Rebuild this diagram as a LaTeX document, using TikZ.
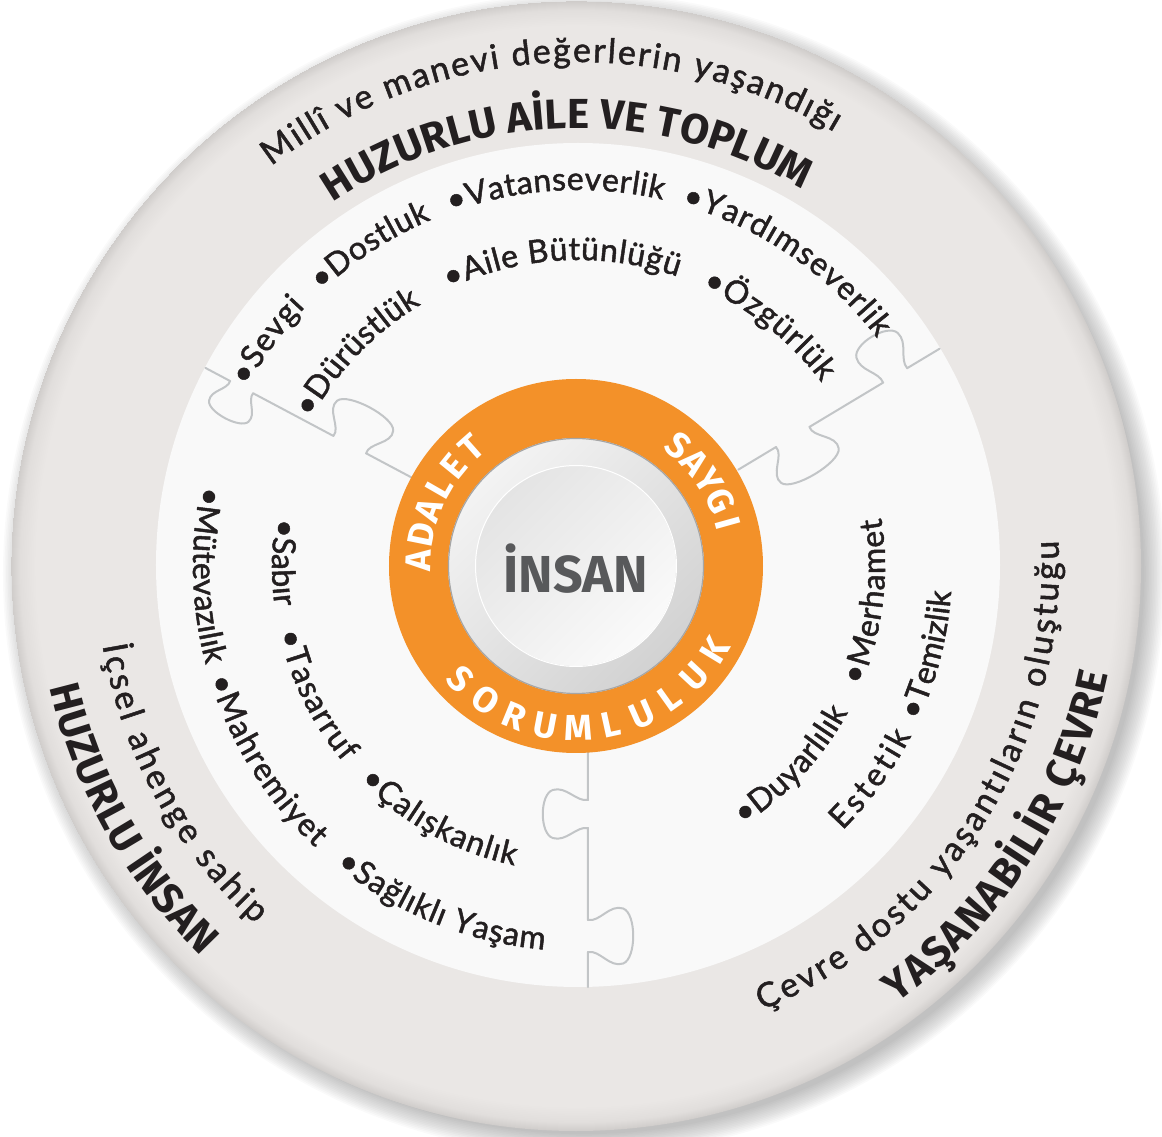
\documentclass[tikz,border=0pt]{standalone}
\usepackage{fontspec}
\usetikzlibrary{decorations.text}
\newfontfamily\bodyfam{Lato}[FakeBold=1.5]
\newfontfamily\headfam{Fira Sans}
\definecolor{ringc}{HTML}{EAE7E5}
\definecolor{rimc}{HTML}{E1DEDC}
\definecolor{rimd}{HTML}{CFCCCA}
\definecolor{innerc}{HTML}{F9F9F9}
\definecolor{puzz}{HTML}{C2C5C7}
\definecolor{orng}{HTML}{F39129}
\definecolor{txt}{HTML}{231F20}
\definecolor{insg}{HTML}{58595B}
\definecolor{rimL}{HTML}{F3F3F3}
\definecolor{rimD}{HTML}{D2D2D2}
\definecolor{discL}{HTML}{FAFAFA}
\definecolor{discD}{HTML}{E4E4E4}
\pgfdeclareradialshading{outerrim}{\pgfpoint{0bp}{0bp}}{color(0bp)=(ringc); color(23.9bp)=(ringc); color(24.6bp)=(rimc); color(25bp)=(rimd)}
\newcommand\bodyf{\bodyfam\fontsize{32}{32}\selectfont}
\newcommand\smallf{\bodyfam\fontsize{34}{34}\selectfont}
\newcommand\boldf{\headfam\bfseries\fontsize{42}{42}\selectfont}
\newcommand\arctext[5]{\path[decorate,decoration={text along path,text align=fit to path,text color=txt,text={|#4|#5}}] (#2:#1) arc[start angle=#2,end angle=#3,radius=#1];}
\newcommand\jtab[3]{-- (#1,0) .. controls ({#1+0.07*#2},{0.26*(#3)}) and ({#1-0.5*#2},{0.48*(#3)}) .. ({#1-0.36*#2},{0.78*(#3)}) .. controls ({#1-0.21*#2},{1.08*(#3)}) and ({#1+1.21*#2},{1.08*(#3)}) .. ({#1+1.36*#2},{0.78*(#3)}) .. controls ({#1+1.5*#2},{0.48*(#3)}) and ({#1+0.93*#2},{0.26*(#3)}) .. ({#1+#2},0)}
\tikzset{
  puzzline/.style={draw=puzz,line width=2pt,line join=round,line cap=round},
  ringl/.style={font=\headfam\bfseries\fontsize{36}{36}\selectfont,text=white,anchor=base,inner sep=0pt}
}
\begin{document}
\begin{tikzpicture}[x=1pt,y=1pt]
\useasboundingbox (-578,-571) rectangle (584,566);
% drop shadow
\foreach \k in {0,...,13}{\fill[black,opacity=0.02] (6,-8) circle ({565+16-\k*1.6});}
% outer disk
\shade[shading=outerrim] (-2,0) circle (565);
% inner light disk
\fill[innerc] (0,1) circle (422);
% puzzle dividers
\begin{scope}[rotate=152]
\draw[puzzline] (187,0) \jtab{240}{37}{-42} \jtab{368}{26}{35} -- (422,0);
\end{scope}
\begin{scope}[rotate=31]
\draw[puzzline] (187,0) \jtab{231}{39}{-43} \jtab{356}{28}{45} -- (422,0);
\end{scope}
\begin{scope}[shift={(10,0)},rotate=-90]
\draw[puzzline] (186,0) \jtab{234}{28}{-45} \jtab{354}{32}{45} -- (421,0);
\end{scope}
% orange ring
\fill[orng,even odd rule] (-2,0) circle (187) (-2,0) circle (128);
\shade[top color=rimL,bottom color=rimD,shading angle=45] (-2,0) circle (127.5);
\draw[draw=gray!70,line width=1.2pt] (-2,0) circle (127.5);
\shade[top color=discD,bottom color=discL,shading angle=45] (-2,0) circle (100);
\draw[white,line width=1pt] (-2,0) circle (100.5);
\node[font=\headfam\bfseries\fontsize{52}{52}\selectfont,text=insg,anchor=base,inner sep=0pt] (insan) at (-2.5,-27) {İNSAN};
% ring words
\begin{scope}[shift={(-2,0)}]
\foreach \l [count=\i from 0] in {A,D,A,L,E,T}{\pgfmathsetmacro\ang{178-\i*9.3}\node[ringl,rotate=\ang-90] (ad\i) at (\ang:145.5) {\l};}
\foreach \l [count=\i from 0] in {S,A,Y,G,I}{\pgfmathsetmacro\ang{49.8-\i*8.55}\node[ringl,rotate=\ang-90] (sa\i) at (\ang:145.5) {\l};}
\foreach \l [count=\i from 0] in {S,O,R,U,M,L,U,L,U,K}{\pgfmathsetmacro\ang{224.5+\i*11.57}\node[ringl,rotate=\ang+90] (so\i) at (\ang:174.5) {\l};}
\end{scope}
% top sector items
\arctext{376}{151.5}{136.5}{\bodyf}{•Sevgi}
\arctext{376}{133}{113}{\bodyf}{•Dostluk}
\arctext{376}{109.8}{77}{\bodyf}{•Vatanseverlik}
\arctext{376}{74}{37.3}{\bodyf}{•Yardımseverlik}
\arctext{305}{151}{121}{\bodyf}{•Dürüstlük}
\arctext{306}{115}{71}{\bodyf}{•Aile Bütünlüğü}
\arctext{305}{66}{37}{\bodyf}{•Özgürlük}
% left sector items
\arctext{385}{168}{194.5}{\bodyf}{•Mütevazılık}
\arctext{385}{197}{227}{\bodyf}{•Mahremiyet}
\arctext{385}{231}{265}{\bodyf}{•Sağlıklı Yaşam}
\arctext{306}{171}{187.5}{\bodyf}{•Sabır}
\arctext{306}{192.5}{220}{\bodyf}{•Tasarruf}
\arctext{306}{224.5}{258}{\bodyf}{•Çalışkanlık}
% right sector items
\arctext{307}{-57.5}{-28.5}{\bodyf}{•Duyarlılık}
\arctext{307}{-23}{9}{\bodyf}{•Merhamet}
\arctext{374}{-45}{-27}{\bodyf}{Estetik}
\arctext{374}{-24.5}{-4}{\bodyf}{•Temizlik}
% outer ring texts
\arctext{504}{127.5}{59.5}{\smallf}{Millî ve manevi değerlerin yaşandığı}
\arctext{438}{124}{59.5}{\boldf}{HUZURLU AİLE VE TOPLUM}
\arctext{482}{189.5}{228}{\smallf}{İçsel ahenge sahip}
\arctext{542}{193}{226}{\boldf}{HUZURLU İNSAN}
\arctext{481}{-67.5}{3}{\smallf}{Çevre dostu yaşantıların oluştuğu}
\arctext{541}{-54}{-11.5}{\boldf}{YAŞANABİLİR ÇEVRE}
\end{tikzpicture}
\end{document}
